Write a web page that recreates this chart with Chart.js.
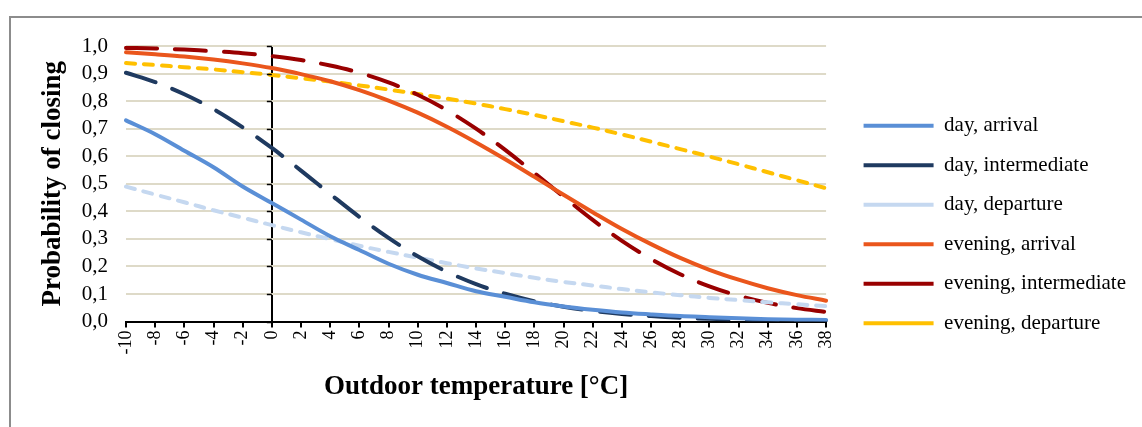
<!DOCTYPE html>
<html>
<head>
<meta charset="utf-8">
<script src="https://cdn.jsdelivr.net/npm/chart.js@4/dist/chart.umd.min.js"></script>
<style>
    html, body { margin: 0; padding: 0; background: #fff; }
    body { width: 1142px; height: 427px; overflow: hidden; position: relative; }
    #frame { position: absolute; left: 9px; top: 16px; width: 1300px; height: 600px; border: 2px solid #8c8c8c; box-sizing: border-box; }
    #wrap { position: absolute; left: 11px; top: 18px; width: 1131px; height: 409px; }
</style>
</head>
<body>
<div id="frame"></div>
<div id="wrap"><canvas id="chart"></canvas></div>
<script>
const temperatures = [-10, -8, -6, -4, -2, 0, 2, 4, 6, 8, 10, 12, 14, 16, 18, 20, 22, 24, 26, 28, 30, 32, 34, 36, 38];
const yTicks = [0, 0.1, 0.2, 0.3, 0.4, 0.5, 0.6, 0.7, 0.8, 0.9, 1.0];

const dayArrival = [0.73, 0.68, 0.62, 0.56, 0.49, 0.43, 0.37, 0.31, 0.26, 0.21, 0.17, 0.14, 0.11, 0.09, 0.07, 0.055, 0.043, 0.033, 0.026, 0.020, 0.016, 0.012, 0.009, 0.007, 0.006];
const dayIntermediate = [0.903, 0.869, 0.825, 0.771, 0.705, 0.630, 0.548, 0.463, 0.380, 0.304, 0.237, 0.181, 0.136, 0.101, 0.074, 0.054, 0.039, 0.028, 0.020, 0.014, 0.010, 0.007, 0.005, 0.004, 0.003];
const dayDeparture = [0.490, 0.461, 0.433, 0.404, 0.377, 0.350, 0.324, 0.299, 0.275, 0.253, 0.232, 0.212, 0.193, 0.176, 0.159, 0.144, 0.131, 0.118, 0.106, 0.096, 0.086, 0.078, 0.070, 0.063, 0.056];
const eveningArrival = [0.977, 0.970, 0.962, 0.951, 0.937, 0.920, 0.898, 0.872, 0.840, 0.802, 0.758, 0.707, 0.650, 0.589, 0.525, 0.460, 0.397, 0.336, 0.281, 0.231, 0.188, 0.152, 0.121, 0.096, 0.076];
const eveningIntermediate = [0.993, 0.991, 0.987, 0.981, 0.974, 0.963, 0.949, 0.929, 0.903, 0.868, 0.823, 0.767, 0.700, 0.623, 0.539, 0.453, 0.369, 0.293, 0.227, 0.172, 0.128, 0.094, 0.068, 0.049, 0.035];
const eveningDeparture = [0.938, 0.931, 0.923, 0.915, 0.905, 0.895, 0.883, 0.871, 0.857, 0.842, 0.826, 0.809, 0.791, 0.771, 0.750, 0.727, 0.704, 0.679, 0.653, 0.626, 0.599, 0.571, 0.542, 0.513, 0.484];

const serif = "'Liberation Serif', 'Times New Roman', serif";
const longDash = [31, 18];
const shortDash = [9, 9];

function series(label, data, color, dash) {
    return {
        label: label,
        data: data,
        borderColor: color,
        backgroundColor: color,
        borderWidth: 4,
        borderDash: dash,
        borderCapStyle: "round",
        pointRadius: 0,
        pointStyle: "line",
        tension: 0.35,
        fill: false
    };
}

// small tick marks on the vertical axis that crosses at 0 degrees
const zeroAxisTicks = {
    id: "zeroAxisTicks",
    afterDatasetsDraw(chart) {
        const x = chart.scales.x.getPixelForTick(temperatures.indexOf(0));
        const y = chart.scales.y;
        const ctx = chart.ctx;
        ctx.save();
        ctx.strokeStyle = "#000";
        ctx.lineWidth = 1.5;
        ctx.beginPath();
        yTicks.forEach(v => {
            const py = Math.round(y.getPixelForValue(v)) + 0.5;
            ctx.moveTo(x - 5, py);
            ctx.lineTo(x, py);
        });
        ctx.stroke();
        ctx.restore();
    }
};

new Chart(document.getElementById("chart"), {
    type: "line",
    data: {
        labels: temperatures,
        datasets: [
            series("day, arrival", dayArrival, "#5a8fd6", []),
            series("day, intermediate", dayIntermediate, "#1f3a60", longDash),
            series("day, departure", dayDeparture, "#c5d8f0", shortDash),
            series("evening, arrival", eveningArrival, "#ea561c", []),
            series("evening, intermediate", eveningIntermediate, "#990000", longDash),
            series("evening, departure", eveningDeparture, "#ffc000", shortDash)
        ]
    },
    options: {
        responsive: true,
        maintainAspectRatio: false,
        animation: false,
        layout: { padding: { left: 26, top: 28, right: 6, bottom: 24 } },
        plugins: {
            tooltip: { enabled: false },
            legend: {
                position: "right",
                maxWidth: 320,
                labels: {
                    usePointStyle: true,
                    pointStyleWidth: 70,
                    boxWidth: 70,
                    padding: 18.5,
                    color: "#000",
                    font: { family: serif, size: 21 }
                }
            }
        },
        scales: {
            x: {
                type: "category",
                offset: false,
                grid: {
                    color: c => temperatures[c.index] === 0 ? "#000" : "rgba(0,0,0,0)",
                    lineWidth: 2,
                    tickColor: "#000",
                    tickLength: 6
                },
                border: { color: "#000", width: 2 },
                ticks: {
                    autoSkip: false,
                    minRotation: 90,
                    maxRotation: 90,
                    padding: 3,
                    color: "#000",
                    font: { family: serif, size: 18 }
                },
                title: {
                    display: true,
                    text: "Outdoor temperature [°C]",
                    color: "#000",
                    padding: { top: 13, bottom: 0 },
                    font: { family: serif, size: 27, weight: "bold", lineHeight: 1.2 }
                }
            },
            y: {
                min: 0,
                max: 1,
                grid: { color: "#dedac8", lineWidth: 2, drawTicks: false },
                border: { display: false },
                afterBuildTicks: s => { s.ticks = yTicks.map(v => ({ value: v })); },
                afterFit: s => { s.width = 89; s.paddingTop = 0; },
                ticks: {
                    autoSkip: false,
                    padding: 18,
                    color: "#000",
                    font: { family: serif, size: 21 },
                    callback: v => v.toFixed(1).replace(".", ",")
                },
                title: {
                    display: true,
                    text: "Probability of closing",
                    color: "#000",
                    padding: { top: 0, bottom: 0 },
                    font: { family: serif, size: 27, weight: "bold", lineHeight: 1.2 }
                }
            },
            gap: {
                position: "right",
                display: true,
                grid: { display: false },
                border: { display: false },
                ticks: { display: false },
                afterFit: s => { s.width = 19; }
            }
        }
    },
    plugins: [zeroAxisTicks]
});
</script>
</body>
</html>
